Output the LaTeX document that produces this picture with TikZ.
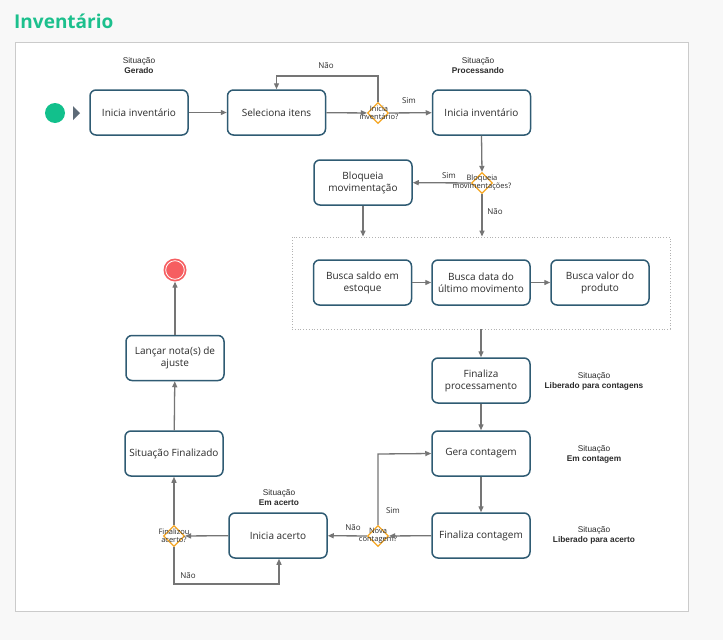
\documentclass[tikz,border=0pt]{standalone}
\usepackage{fontspec}
\setmainfont{Open Sans}
\newfontfamily\arialf{Liberation Sans}
\usetikzlibrary{shapes.geometric,arrows.meta}
\definecolor{pagebg}{HTML}{F8F8F8}
\definecolor{panelborder}{HTML}{CBCBCB}
\definecolor{titlegreen}{HTML}{1CC08D}
\definecolor{boxborder}{HTML}{2F5B73}
\definecolor{txt}{HTML}{2B2B2B}
\definecolor{arrowgray}{HTML}{757575}
\definecolor{dorange}{HTML}{F5A623}
\definecolor{startgreen}{HTML}{12C08C}
\definecolor{endred}{HTML}{F65E61}
\definecolor{trigray}{HTML}{5E6B78}
\tikzset{
  x=1pt,y=-1pt,
  stepbox/.style={draw=boxborder,line width=1.5pt,rounded corners=6pt,fill=white,
    minimum width=98pt,minimum height=45pt,align=center,text=txt,
    font=\fontsize{10}{12}\selectfont,inner sep=2pt},
  decision/.style={diamond,draw=dorange,line width=1.2pt,minimum width=21pt,minimum height=21pt,inner sep=0pt},
  dlabel/.style={font=\fontsize{7.5}{8}\selectfont,text=txt,align=center,inner sep=0pt},
  flow/.style={draw=arrowgray,line width=1.3pt,-{Triangle[length=6pt,width=5pt]}},
  plain/.style={draw=arrowgray,line width=1.3pt},
  cond/.style={font=\fontsize{8}{9}\selectfont,text=txt,inner sep=0pt},
  sit/.style={font=\arialf\fontsize{8.3}{10}\selectfont,text=txt,align=center,inner sep=0pt},
}
\begin{document}
\begin{tikzpicture}
\useasboundingbox (0,0) rectangle (723,640);
\fill[pagebg] (0,0) rectangle (723,640);
\fill[white,draw=panelborder,line width=1pt] (15,42) rectangle (688,611);
\node[anchor=west,text=titlegreen,font=\bfseries\fontsize{19}{22}\selectfont,inner sep=0pt] (title) at (14,21) {Inventário};

% start / end
\node[circle,fill=startgreen,minimum size=20pt,inner sep=0pt] (start) at (55,113) {};
\fill[trigray] (73,106) -- (80,113) -- (73,120) -- cycle;
\node[circle,fill=endred,minimum size=23pt,inner sep=0pt] (endc) at (175,270) {};
\draw[white,line width=0.8pt] (endc.center) circle (9.3pt);

% boxes
\node[stepbox] (ini1) at (139,112.5) {Inicia inventário};
\node[stepbox] (sel) at (276.5,112.5) {Seleciona itens};
\node[stepbox] (ini2) at (481.5,112.5) {Inicia inventário};
\node[stepbox] (bloq) at (363,182.5) {Bloqueia\\movimentação};
\node[draw=gray!60,dotted,line width=0.8pt,minimum width=378pt,minimum height=92pt,inner sep=0pt] (grp) at (481,283) {};
\node[stepbox] (bs) at (362.5,282.5) {Busca saldo em\\estoque};
\node[stepbox] (bd) at (481,282.5) {Busca data do\\último movimento};
\node[stepbox] (bv) at (600,282.5) {Busca valor do\\produto};
\node[stepbox] (fp) at (481,380.5) {Finaliza\\processamento};
\node[stepbox] (gc) at (481,453.5) {Gera contagem};
\node[stepbox] (fc) at (481,535.5) {Finaliza contagem};
\node[stepbox] (ia) at (278,535.5) {Inicia acerto};
\node[stepbox] (sf) at (174,453.5) {Situação Finalizado};
\node[stepbox] (ln) at (175,358) {Lançar nota(s) de\\ajuste};

% decisions
\node[decision] (d1) at (378,113) {};
\node[dlabel] (d1l) at (379,112.5) {Inicia\\inventário?};
\node[decision] (d2) at (482,183) {};
\node[dlabel] (d2l) at (482,183) {Bloqueia\\movimentações?};
\node[decision] (d3) at (378,536) {};
\node[dlabel] (d3l) at (378,536) {Nova\\contagem?};
\node[decision] (d4) at (174,536) {};
\node[dlabel] (d4l) at (174,535.5) {Finalizou\\acerto?};

% situation labels
\node[sit] (s1) at (139,65.5) {Situação\\\textbf{Gerado}};
\node[sit] (s2) at (478,65.5) {Situação\\\textbf{Processando}};
\node[sit] (s3) at (594,381) {Situação\\\textbf{Liberado para contagens}};
\node[sit] (s4) at (594,454.5) {Situação\\\textbf{Em contagem}};
\node[sit] (s5) at (594,535.5) {Situação\\\textbf{Liberado para acerto}};
\node[sit] (s6) at (279,497.5) {Situação\\\textbf{Em acerto}};

% connectors
\path[flow] (ini1) -- (sel);
\path[flow] (sel) -- (d1);
\coordinate (l1a) at (378,76);
\coordinate (l1b) at (276.5,76);
\path[flow] (d1.north) -- (l1a) -- (l1b) -- (sel.north);
\node[cond] (nao1) at (326,66) {Não};
\path[flow] (d1) -- (ini2);
\node[cond] (sim1) at (409,101) {Sim};
\path[flow] (ini2.south) -- (d2.north);
\path[flow] (d2) -- (bloq);
\node[cond] (sim2) at (449,176) {Sim};
\path[flow] (d2.south) -- (d2.south |- grp.north);
\node[cond] (nao2) at (495,212) {Não};
\path[flow] (bloq.south) -- (bloq.south |- grp.north);
\path[flow] (bs) -- (bd);
\path[flow] (bd) -- (bv);
\path[flow] (grp.south) -- (fp.north);
\path[flow] (fp) -- (gc);
\path[flow] (gc) -- (fc);
\path[flow] (fc) -- (d3);
\coordinate (l3) at (378,454);
\path[flow] (d3.north) -- (l3) -- (gc.west);
\node[cond] (sim3) at (393,511) {Sim};
\path[flow] (d3) -- (ia);
\node[cond] (nao3) at (353,528) {Não};
\path[flow] (ia) -- (d4);
\path[flow] (d4.north) -- (sf.south);
\coordinate (l4a) at (174,584);
\coordinate (l4b) at (279,584);
\path[flow] (d4.south) -- (l4a) -- (l4b) -- (ia.south -| l4b);
\node[cond] (nao4) at (188,576) {Não};
\path[flow] (sf) -- (ln);
\path[flow] (ln) -- (endc);
\end{tikzpicture}
\end{document}
